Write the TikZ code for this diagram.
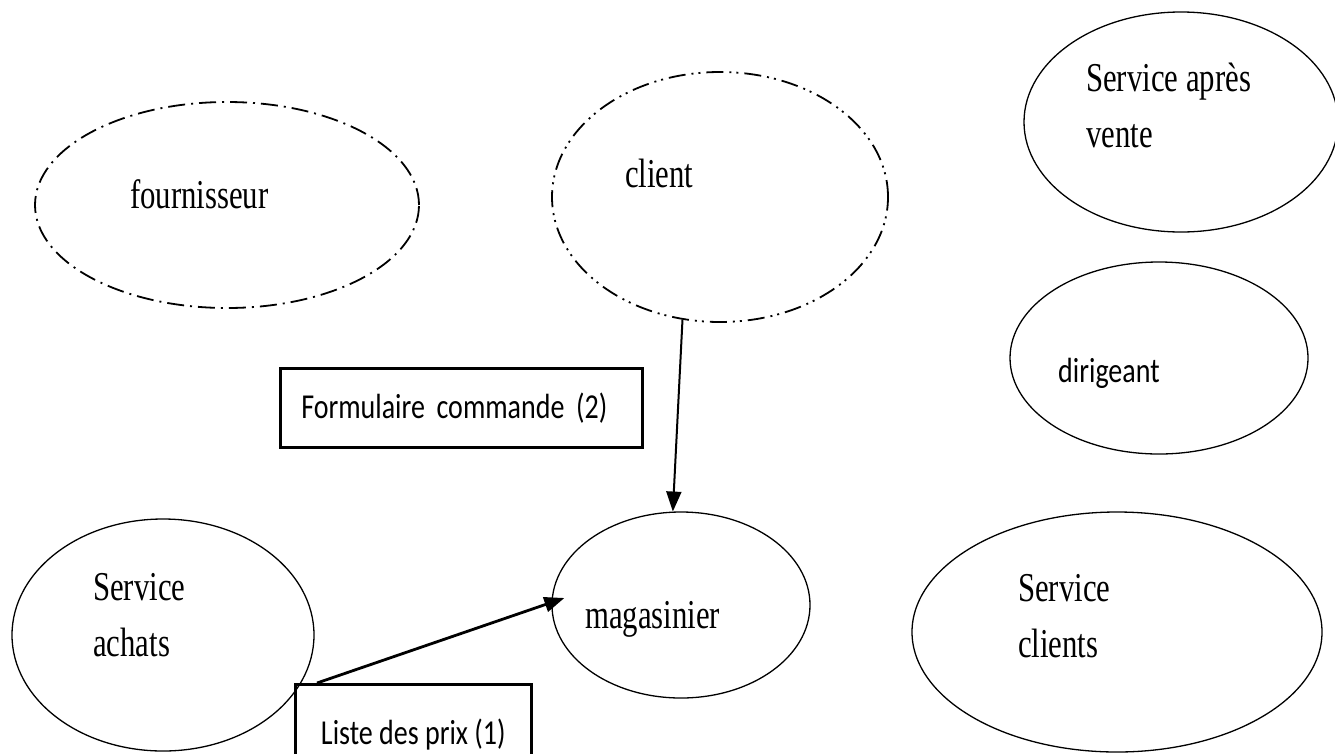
\documentclass[tikz,border=0pt]{standalone}
\usepackage{fontspec}
\setmainfont{Liberation Serif}[FakeStretch=0.75]
\newfontfamily\calfont{Carlito}[FakeStretch=0.8]
\usepackage{tikz}
\usetikzlibrary{
  shapes.geometric,
  arrows.meta}

\tikzset{
  acteur/.style={ellipse, draw, line width=1.3pt, inner sep=0pt},
  externe/.style={acteur, line width=1.8pt,
    dash pattern=on 17pt off 6pt on 2pt off 6pt},
  externebis/.style={acteur, line width=1.8pt,
    dash pattern=on 17pt off 6pt on 2pt off 5pt on 2pt off 6pt},
  nom/.style={inner sep=0pt, anchor=base west, align=left,
    font=\fontsize{41}{56}\selectfont},
  nomsans/.style={inner sep=0pt, anchor=base west,
    font=\calfont\fontsize{35}{42}\selectfont},
  flux/.style={draw, rectangle, line width=2.6pt, anchor=north west,
    inner ysep=0pt, inner xsep=21pt, align=left,
    font=\calfont\fontsize{35}{42}\selectfont},
  fleche/.style={-{Triangle[length=20pt,width=15pt]}, line width=2pt}
}

\begin{document}
\begin{tikzpicture}[x=1pt,y=-1pt]
\clip (0,0) rectangle (1335,753);
\fill[white] (0,0) rectangle (1335,753);

\node[externe, minimum width=384pt, minimum height=206pt] (fourn) at (227,205) {};
\node[externebis, minimum width=336pt, minimum height=250pt] (client) at (720,197) {};
\node[acteur, minimum width=314pt, minimum height=220pt] (sav) at (1181,122) {};
\node[acteur, minimum width=298pt, minimum height=192pt] (dirig) at (1159,358) {};
\node[acteur, minimum width=302pt, minimum height=232pt] (achats) at (163,635) {};
\node[acteur, minimum width=258pt, minimum height=186pt] (magas) at (681,605) {};
\node[acteur, minimum width=410pt, minimum height=240pt] (sclients) at (1117,632) {};

% texte des acteurs (base de la derniere ligne)
\node[nom] (tfourn) at (130,208) {fournisseur};
\node[nom] (tclient) at (625,187) {client};
\node[nom] (tsav) at (1086,147) {Service après\\vente};
\node[nomsans] (tdirig) at (1058,382) {dirigeant};
\node[nom] (tachats) at (93,656) {Service\\achats};
\node[nom] (tmagas) at (585,628) {magasinier};
\node[nom] (tsclients) at (1018,657) {Service\\clients};

\node[flux, text width=320pt, minimum height=79pt] (form) at (279,367)
  {Formulaire commande (2)};
\node[flux, inner xsep=0pt, minimum width=236pt, minimum height=100pt] (prix) at (294,683)
  {Liste des prix (1)};

\draw[fleche] (client.253) -- (magas.95);
\draw[fleche, line width=2.8pt] ([xshift=23pt]prix.north west)
  -- ([xshift=13pt,yshift=7pt]magas.west);

\end{tikzpicture}
\end{document}
